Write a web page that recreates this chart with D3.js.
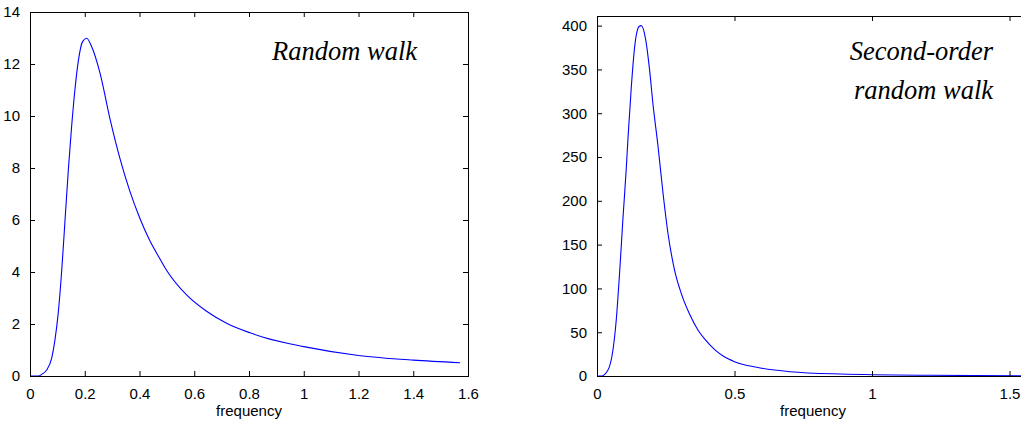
<!DOCTYPE html>
<html>
<head>
<meta charset="utf-8">
<script src="https://cdn.jsdelivr.net/npm/d3@7"></script>
<style>
html,body{margin:0;padding:0;background:#fff;}
svg{display:block;}
.tick text{font-family:"Liberation Sans",Arial,sans-serif;font-size:15px;fill:#000;}
.xlab{font-family:"Liberation Sans",Arial,sans-serif;font-size:15px;fill:#000;}
.note{font-family:"Liberation Serif","Times New Roman",serif;font-style:italic;font-size:26.5px;fill:#000;}
</style>
</head>
<body>
<svg id="chart" width="1021" height="424"></svg>
<script>
// Left panel: random walk spectrum
const rwFreq  = [0, 0.03, 0.045, 0.061, 0.079, 0.091, 0.103, 0.116, 0.128, 0.140, 0.152, 0.164, 0.177, 0.192, 0.207, 0.225, 0.256, 0.292, 0.329, 0.365, 0.402, 0.438, 0.475, 0.50, 0.572, 0.645, 0.72, 0.804, 0.852, 1.0, 1.2, 1.4, 1.571];
const rwValue = [0, 0.0, 0.08, 0.23, 0.68, 1.38, 2.41, 4.08, 6.0, 7.92, 9.59, 11.0, 12.15, 12.86, 12.99, 12.67, 11.64, 9.9, 8.35, 7.1, 6.05, 5.2, 4.5, 4.05, 3.12, 2.49, 2.02, 1.66, 1.49, 1.13, 0.79, 0.61, 0.51];
const rwXTicks = [0, 0.2, 0.4, 0.6, 0.8, 1, 1.2, 1.4, 1.6];
const rwYTicks = [0, 2, 4, 6, 8, 10, 12, 14];

// Right panel: second-order random walk spectrum
const rw2Freq  = [0, 0.016, 0.04, 0.058, 0.070, 0.082, 0.094, 0.106, 0.113, 0.125, 0.137, 0.153, 0.161, 0.177, 0.191, 0.203, 0.222, 0.240, 0.258, 0.282, 0.306, 0.336, 0.367, 0.392, 0.43, 0.46, 0.5, 0.581, 0.702, 0.884, 1.21, 1.571];
const rw2Value = [0, 0, 6.9, 29.7, 64, 117, 178, 235, 273, 331, 376, 399, 400, 384, 350, 312, 262, 209, 163, 121, 94.6, 71, 52.6, 42, 29.5, 22.5, 16.4, 9.9, 4.9, 2.3, 0.8, 0.3];
const rw2XTicks = [0, 0.5, 1, 1.5];
const rw2YTicks = [0, 50, 100, 150, 200, 250, 300, 350, 400];

const xLabel = "frequency";

const svg = d3.select("#chart");

function panel(cfg) {
  const x = d3.scaleLinear().domain(cfg.xDomain).range([cfg.left, cfg.right]);
  const y = d3.scaleLinear().domain(cfg.yDomain).range([cfg.bottom, cfg.top]);
  const g = svg.append("g");
  const tl = 5;
  const cid = "clip" + cfg.id;
  svg.append("clipPath").attr("id", cid).append("rect")
    .attr("x", cfg.left).attr("y", cfg.top)
    .attr("width", cfg.right - cfg.left).attr("height", cfg.bottom - cfg.top);

  const pts = cfg.fx.map((f, i) => [f, cfg.fy[i]]);
  g.append("path")
    .attr("clip-path", `url(#${cid})`)
    .attr("d", d3.line().x(d => x(d[0])).y(d => y(d[1])).curve(d3.curveMonotoneX)(pts))
    .attr("fill", "none").attr("stroke", "#0000ff").attr("stroke-width", 1.1);

  const bottomAx = g.append("g").attr("transform", `translate(0,${cfg.bottom})`)
    .call(d3.axisBottom(x).tickValues(cfg.xTicks).tickSize(-tl).tickPadding(12).tickFormat(d3.format("")));
  const topAx = g.append("g").attr("transform", `translate(0,${cfg.top})`)
    .call(d3.axisTop(x).tickValues(cfg.xTicks).tickSize(-tl).tickFormat(""));
  const leftAx = g.append("g").attr("transform", `translate(${cfg.left},0)`)
    .call(d3.axisLeft(y).tickValues(cfg.yTicks).tickSize(-tl).tickPadding(10).tickFormat(d3.format("")));
  const rightAx = g.append("g").attr("transform", `translate(${cfg.right},0)`)
    .call(d3.axisRight(y).tickValues(cfg.yTicks).tickSize(-tl).tickFormat(""));
  [bottomAx, topAx, leftAx, rightAx].forEach(a => {
    a.select(".domain").remove();
    a.selectAll(".tick line").attr("stroke", "#000");
  });
  g.append("rect").attr("x", cfg.left + 0.5).attr("y", cfg.top + 0.5)
    .attr("width", cfg.right - cfg.left).attr("height", cfg.bottom - cfg.top)
    .attr("fill", "none").attr("stroke", "#000").attr("stroke-width", 1);

  g.append("text").attr("class", "xlab")
    .attr("x", (cfg.left + cfg.right) / 2).attr("y", 416)
    .attr("text-anchor", "middle")
    .text(xLabel);

  cfg.title.forEach((t, i) => {
    g.append("text").attr("class", "note")
      .attr("x", cfg.titleX).attr("y", cfg.titleY + i * 39)
      .attr("text-anchor", "end")
      .text(t);
  });
}

panel({id: 1, left: 30, right: 468, top: 12, bottom: 376,
  xDomain: [0, 1.6], yDomain: [0, 14], xTicks: rwXTicks, yTicks: rwYTicks,
  fx: rwFreq, fy: rwValue, title: ["Random walk"], titleX: 417, titleY: 60});

panel({id: 2, left: 597, right: 1029, top: 16, bottom: 376,
  xDomain: [0, Math.PI / 2], yDomain: [0, 411], xTicks: rw2XTicks, yTicks: rw2YTicks,
  fx: rw2Freq, fy: rw2Value, title: ["Second-order", "random walk"], titleX: 993, titleY: 60});
</script>
</body>
</html>
